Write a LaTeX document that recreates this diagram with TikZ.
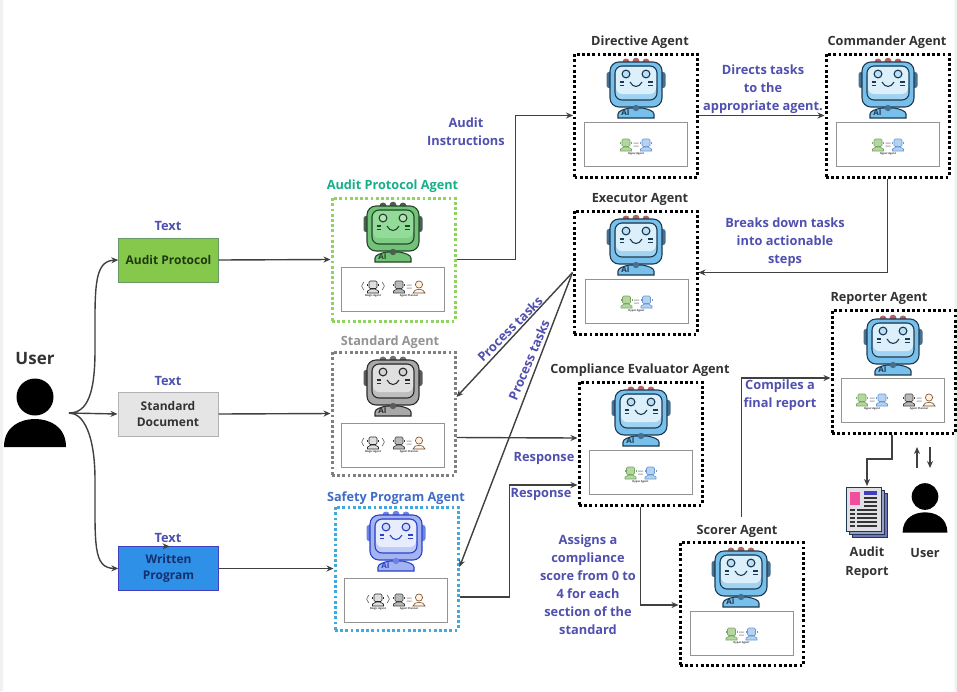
\documentclass[tikz,border=0pt]{standalone}
\usepackage{fontspec}
\setmainfont{Open Sans}
\usetikzlibrary{arrows.meta,calc}
\definecolor{lbl}{HTML}{5050B0}
\definecolor{wire}{HTML}{404040}
\definecolor{ttl}{HTML}{333333}
\definecolor{bink}{HTML}{1E3A50}\definecolor{bmain}{HTML}{78C0EC}\definecolor{blight}{HTML}{DCF0FB}\definecolor{bear}{HTML}{47708F}\definecolor{bant}{HTML}{B8605F}
\definecolor{gink}{HTML}{24452C}\definecolor{gmain}{HTML}{72C278}\definecolor{glight}{HTML}{93DB98}\definecolor{gear}{HTML}{4A5F4E}\definecolor{gant}{HTML}{4A5F4E}
\definecolor{sink}{HTML}{2B2B2B}\definecolor{smain}{HTML}{A8A8A8}\definecolor{slight}{HTML}{E0E0E0}\definecolor{sear}{HTML}{5A5A5A}\definecolor{sant}{HTML}{707070}
\definecolor{vink}{HTML}{2A42C4}\definecolor{vmain}{HTML}{A4B4F3}\definecolor{vlight}{HTML}{E8EDFD}\definecolor{vear}{HTML}{6C82E6}\definecolor{vant}{HTML}{6C82E6}
\definecolor{mgf}{HTML}{B5D6A0}\definecolor{mgd}{HTML}{76A860}\definecolor{mbf}{HTML}{B5D2F0}\definecolor{mbd}{HTML}{6A97D6}
\definecolor{audT}{HTML}{15B08A}\definecolor{safT}{HTML}{3F6CC8}
\definecolor{audD}{HTML}{8FD45F}\definecolor{safD}{HTML}{3FA9E0}
\definecolor{fAud}{HTML}{85C84B}\definecolor{fWri}{HTML}{2F90E8}
\definecolor{tAudC}{HTML}{1E3A10}\definecolor{tWriC}{HTML}{14306E}
\definecolor{edge}{HTML}{F1F1F1}
\tikzset{
 lab/.style={font=\fontsize{12.8}{18}\selectfont\bfseries,text=lbl,align=center,inner sep=0pt},
 ttlnode/.style={font=\fontsize{12.7}{18}\selectfont\bfseries,text=ttl,inner sep=0pt},
 srcbox/.style={minimum width=100pt,minimum height=44pt,inner sep=0pt,align=center,font=\fontsize{12}{16}\selectfont\bfseries},
 agentbox/.style={minimum width=123pt,minimum height=123pt,inner sep=0pt,line width=3pt,dash pattern=on 2.8pt off 2.4pt},
 thumb/.style={draw=gray!85,line width=.8pt,fill=white,minimum width=103pt,minimum height=44pt,inner sep=0pt},
 conn/.style={draw=wire,line width=1.4pt,-{Stealth[length=7pt,width=6pt]}},
 tiny/.style={font=\fontsize{2.6}{3}\selectfont\bfseries,text=black!80,inner sep=0pt}
}
% cx, top, main, light, ear, outline, antenna
\newcommand{\robotdraw}[7]{%
 \begin{scope}[shift={(#1,#2)},line width=1.1pt,draw=#6]
  \fill[#7] (-10,0) circle (3.5) (0,-.8) circle (3.5) (10,0) circle (3.5);
  \fill[#5,rounded corners=2.5] (-29.5,10) rectangle (-22,26);
  \fill[#5,rounded corners=2.5] (22,10) rectangle (29.5,26);
  \filldraw[fill=#3,rounded corners=9] (-26,0) rectangle (26,45);
  \filldraw[fill=#3!60!#4,rounded corners=7] (-21,4) rectangle (21,38);
  \fill[#4,rounded corners=6] (-20,5) rectangle (20,32);
  \filldraw[fill=#3!50!white] (-10,12) circle (3.9) (10,12) circle (3.9);
  \draw (-6,20) .. controls (-3,26) and (3,26) .. (6,20);
  \draw (-16.5,20)--(-12,20) (-16.5,23.5)--(-12,23.5) (12,20)--(16.5,20) (12,23.5)--(16.5,23.5);
  \filldraw[fill=#3] (-18,56) -- (-18,52) .. controls (-18,49) and (-12,47) .. (-6,46) -- (6,46) .. controls (12,47) and (18,49) .. (18,52) -- (18,56) -- cycle;
  \fill[#5] (0,46) circle (3.2);
  \node[inner sep=0pt,text=#6,font=\fontsize{8}{9}\selectfont\bfseries] (ai#1x#2) at (-10.5,51) {AI};
 \end{scope}}
\newcommand{\minibot}[4]{% cx, cy, fill, outline
 \begin{scope}[shift={(#1,#2)},line width=.6pt,draw=#4]
  \filldraw[fill=#3,rounded corners=1.2] (-4,-6) rectangle (4,1.5);
  \filldraw[fill=#3] (-5.5,6) -- (-5.5,4) -- (-2,2) -- (2,2) -- (5.5,4) -- (5.5,6) -- cycle;
  \draw (-5.5,-3) -- (-5.5,-1) (5.5,-3) -- (5.5,-1);
 \end{scope}}
\newcommand{\hyper}[2]{% centre x,y
 \minibot{#1-10}{#2}{mgf}{mgd}
 \fill[gray!70] (#1-2.5,#2-2.5) rectangle (#1+2.5,#2-1.5) (#1-2.5,#2+.5) rectangle (#1+2.5,#2+1.5);
 \minibot{#1+10}{#2}{mbf}{mbd}
 \node[tiny] (hy#1x#2) at (#1,#2+9) {Hyper Agent};}
\newcommand{\planner}[2]{%
 \minibot{#1-10}{#2}{gray!55}{black!75}
 \fill[gray!70] (#1-2.5,#2-2.5) rectangle (#1+2.5,#2-1.5) (#1-2.5,#2+.5) rectangle (#1+2.5,#2+1.5);
 \begin{scope}[shift={(#1+10,#2)},line width=.6pt,draw=brown!60!black]
  \filldraw[fill=orange!12] (0,-2.5) circle (3.6);
  \filldraw[fill=orange!8] (-6,6) .. controls (-5,1) and (5,1) .. (6,6) -- cycle;
 \end{scope}
 \node[tiny] (pl#1x#2) at (#1,#2+9) {Agent Planner};}
\newcommand{\magic}[2]{%
 \minibot{#1}{#2}{gray!25}{black!85}
 \draw[line width=.5pt,black!75] (#1-9,#2-5) .. controls (#1-12,#2-1) .. (#1-9,#2+3) (#1+9,#2-5) .. controls (#1+12,#2-1) .. (#1+9,#2+3);
 \node[tiny] (mg#1x#2) at (#1,#2+9) {Magic Agent};}
\newcommand{\person}[3]{% cx, head cy, scale
 \begin{scope}[shift={(#1,#2)},scale=#3]
  \fill[black] (0,0) circle (18.5);
  \fill[black] (-31,50) .. controls (-31,29) and (-14,22) .. (0,22) .. controls (14,22) and (31,29) .. (31,50) -- cycle;
 \end{scope}}
\begin{document}
\begin{tikzpicture}[x=1pt,y=-1pt]
\useasboundingbox (0,0) rectangle (957,691);
\fill[white] (0,0) rectangle (957,691);
\fill[edge] (0,0) rectangle (3,691) (954.5,0) rectangle (957,691);
% agent boxes
\node[agentbox,draw=black] (directive) at (636,115.5) {};
\node[agentbox,draw=black] (commander) at (887.5,115.5) {};
\node[agentbox,draw=black] (executor) at (635.5,272.5) {};
\node[agentbox,draw=audD] (auditA) at (393.5,259.5) {};
\node[agentbox,draw=gray] (stdA) at (393.5,413.5) {};
\node[agentbox,draw=safD] (safeA) at (396.5,568.5) {};
\node[agentbox,draw=black] (comp) at (640.5,443.5) {};
\node[agentbox,draw=black] (scorer) at (741.5,604) {};
\node[agentbox,draw=black] (reporter) at (893.5,372) {};
% thumbnails
\node[thumb] (t1) at (636,144) {}; \hyper{636}{145}
\node[thumb] (t2) at (888,144) {}; \hyper{888}{145}
\node[thumb] (t3) at (636.5,301.5) {}; \hyper{636.5}{302}
\node[thumb] (t4) at (393,289) {}; \magic{373}{287}\planner{409}{287}
\node[thumb] (t5) at (392.5,445) {}; \magic{373}{443}\planner{409}{443}
\node[thumb] (t6) at (396,600) {}; \magic{378}{600}\planner{409}{600}
\node[thumb] (t7) at (640.5,472) {}; \hyper{640.5}{473}
\node[thumb] (t8) at (741.5,633) {}; \hyper{741.5}{634}
\node[thumb] (t9) at (893,400.5) {}; \hyper{872}{400}\planner{919}{400}
% robots
\robotdraw{636}{62}{bmain}{blight}{bear}{bink}{bant}
\robotdraw{888}{62}{bmain}{blight}{bear}{bink}{bant}
\robotdraw{636}{219}{bmain}{blight}{bear}{bink}{bant}
\robotdraw{393}{206}{gmain}{glight}{gear}{gink}{gant}
\robotdraw{393}{360}{smain}{slight}{sear}{sink}{sant}
\robotdraw{396}{515}{vmain}{vlight}{vear}{vink}{vant}
\robotdraw{641}{390}{bmain}{blight}{bear}{bink}{bant}
\robotdraw{741}{551}{bmain}{blight}{bear}{bink}{bant}
\robotdraw{893}{319}{bmain}{blight}{bear}{bink}{bant}
% titles
\node[ttlnode] (tDir) at (640,42.5) {Directive Agent};
\node[ttlnode] (tCom) at (887,42.5) {Commander Agent};
\node[ttlnode] (tExe) at (640,199.5) {Executor Agent};
\node[ttlnode,text=audT] (tAud) at (392.5,186.5) {Audit Protocol Agent};
\node[ttlnode,text=gray!85] (tStd) at (390,342.5) {Standard Agent};
\node[ttlnode,text=safT] (tSaf) at (396,498.5) {Safety Program Agent};
\node[ttlnode] (tCmp) at (640,370.5) {Compliance Evaluator Agent};
\node[ttlnode] (tSco) at (737,531) {Scorer Agent};
\node[ttlnode] (tRep) at (879,298.5) {Reporter Agent};
% source boxes
\node[srcbox,fill=fAud,draw=gray!80!green,text=tAudC] (sAud) at (168.5,260) {Audit Protocol};
\node[srcbox,fill=gray!20,draw=gray!60,line width=1pt,text=ttl] (sStd) at (168,414) {Standard\\Document};
\node[srcbox,fill=fWri,draw=blue!50!gray,text=tWriC] (sWri) at (168.5,568.5) {Written\\Program};
\node[lab] (x1) at (168,226) {Text};
\node[lab] (x2) at (168,381) {Text};
\node[lab] (x3) at (168,538) {Text};
% users
\person{35}{397}{1}
\node[inner sep=0pt,font=\fontsize{17}{20}\selectfont\bfseries,text=ttl] (uT) at (35,359) {User};
\coordinate (uOut) at (69,413);
\person{925}{496.5}{.72}
\node[inner sep=0pt,align=center,font=\fontsize{12.7}{19}\selectfont\bfseries,text=ttl] (rT) at (867,563) {Audit\\Report};
\node[ttlnode] (u2T) at (925,553) {User};
% document
\begin{scope}[line width=1pt,draw=bink]
 \filldraw[fill=blue!35!gray!80] (852,493) rectangle (887,537);
 \filldraw[fill=blue!25!gray!60] (849,490) rectangle (884,534);
 \filldraw[fill=blue!8!gray!22] (846,487) rectangle (881,531);
 \fill[magenta!60!pink] (850,492) rectangle (860,505);
 \fill[blue!50!gray] (864,491) rectangle (877,495);
 \foreach \yy in {498,502,506}{\draw[line width=1.3pt,black!80] (864,\yy) -- (877,\yy);}
 \foreach \yy in {510,514,518,522,526}{\draw[line width=1.3pt,black!80] (850,\yy) -- (855,\yy) (857,\yy) -- (877,\yy);}
\end{scope}
\coordinate (docTop) at (867,486);
% user up/down arrows
\coordinate (ua1) at (917,468); \coordinate (ua2) at (917,447);
\coordinate (da1) at (930,447); \coordinate (da2) at (930,468);
\draw[conn] (ua1) -- (ua2);
\draw[conn] (da1) -- (da2);
% stray arrowhead on the Written Program box
\draw[conn] ([xshift=-6pt]sWri.north) -- ([xshift=1pt]sWri.north);
% connectors
\draw[conn] (uOut) .. controls (88,413) and (95,392) .. (95,350) .. controls (95,290) and (93,261) .. (sAud.west);
\draw[conn] (uOut) -- (sStd.west);
\draw[conn] (uOut) .. controls (84,413) and (95,436) .. (95,480) .. controls (95,545) and (93,568) .. (sWri.west);
\draw[conn] (sAud.east) -- (auditA.west);
\draw[conn] (sStd.east) -- (stdA.west);
\draw[conn] (sWri.east) -- (safeA.west);
\draw[conn] (auditA.east) -- ++(59,0) |- (directive.west);
\draw[conn] (directive.east) -- (commander.west);
\draw[conn] (commander.south) |- (executor.east);
\draw[conn] (executor.west) -- ([yshift=16.5pt]stdA.east);
\draw[conn] (executor.west) -- ([yshift=1.5pt]safeA.east);
\draw[conn] ([yshift=-24pt]stdA.east) -- (comp.west |- 0,438);
\draw[conn] ([yshift=-28.5pt]safeA.east) -- ++(50,0) |- ([yshift=-41.5pt]comp.west);
\draw[conn] (comp.south) |- ([yshift=-1pt]scorer.west);
\draw[conn] ([yshift=24pt]scorer.north) |- ([yshift=-6pt]reporter.west);
\draw[conn] ([xshift=-1.5pt]reporter.south) |- (867,459) -- (docTop);
% labels
\node[lab] (l1) at (466,132) {Audit\\Instructions};
\node[lab] (l2) at (763,89) {Directs tasks\\to the\\appropriate agent.};
\node[lab] (l3) at (785,242) {Breaks down tasks\\into actionable\\steps};
\node[lab,rotate=45] (l4) at (510,329) {Process tasks};
\node[lab,rotate=67] (l5) at (529,360) {Process tasks};
\node[lab] (l6) at (544,458) {Response};
\node[lab] (l7) at (541,494) {Response};
\node[lab] (l8) at (588,585) {Assigns a\\compliance\\score from 0 to\\4 for each\\section of the\\standard};
\node[lab] (l9) at (780,395) {Compiles a\\final report};
\end{tikzpicture}
\end{document}
